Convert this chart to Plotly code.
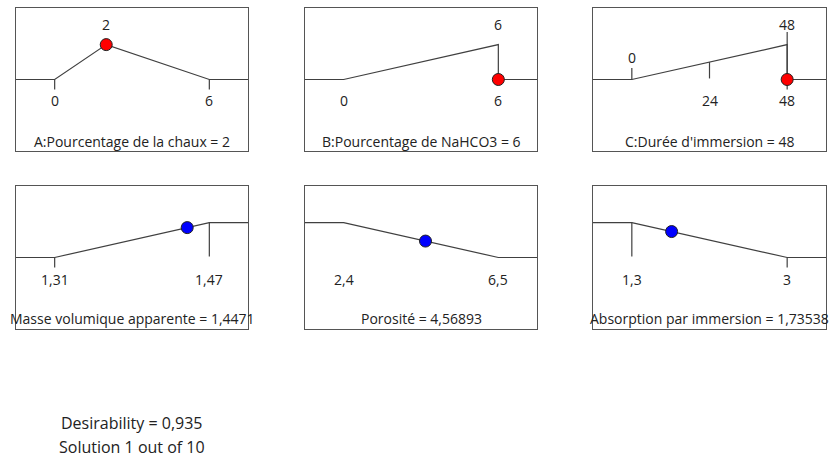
import plotly.graph_objects as go

# Factor settings for the chosen solution
factor_names = ["A:Pourcentage de la chaux", "B:Pourcentage de NaHCO3", "C:Durée d'immersion"]
factor_low = [0, 0, 0]
factor_high = [6, 6, 48]
factor_value = [2, 6, 48]
factor_goal = ["target", "maximize", "maximize"]
factor_mid = [None, None, 24]

# Response predictions and their desirability limits
response_names = ["Masse volumique apparente", "Porosité", "Absorption par immersion"]
response_low = [1.31, 2.4, 1.3]
response_high = [1.47, 6.5, 3]
response_value = [1.4471, 4.56893, 1.73538]
response_goal = ["maximize", "minimize", "minimize"]

desirability = 0.935
solution_no = 1
solution_count = 10

# Text labels printed above and below the ramps
top_labels = [["2"], ["6"], ["0", "48"], [], [], []]
top_label_vals = [[2], [6], [0, 48], [], [], []]
bottom_labels = [["0", "6"], ["0", "6"], ["24", "48"], ["1,31", "1,47"], ["2,4", "6,5"], ["1,3", "3"]]
bottom_label_vals = [[0, 6], [0, 6], [24, 48], [1.31, 1.47], [2.4, 6.5], [1.3, 3]]


def fmt(v):
    s = f"{v:g}"
    return s.replace(".", ",")


W, H = 832, 457
col_px = [(16, 248), (305, 537), (593, 826)]
row_px = [(8, 151), (186, 329)]

LINE = "#404040"
TXT = "#222222"
FONT = "Open Sans"
FS = 14

fig = go.Figure()
annotations = []


def axis_names(i):
    n = "" if i == 0 else str(i + 1)
    return "x" + n, "y" + n, "xaxis" + n, "yaxis" + n


def ramp(lo, hi, goal, val=None):
    span = hi - lo
    x0, x1 = lo - 0.25 * span, hi + 0.25 * span
    if goal == "target":
        return [x0, lo, val, hi, x1], [0, 0, 1, 0, 0]
    if goal == "maximize":
        return [x0, lo, hi, hi, x1], [0, 0, 1, 1, 1]
    return [x0, lo, hi, x1], [1, 1, 0, 0]


def seg(xr, yr, x, y0, y1):
    fig.add_trace(go.Scatter(x=[x, x], y=[y0, y1], mode="lines", xaxis=xr, yaxis=yr,
                             line=dict(color=LINE, width=1.2), hoverinfo="skip", showlegend=False))


TICK = 0.29
for i in range(6):
    xr, yr, xk, yk = axis_names(i)
    row, col = divmod(i, 3)
    if row == 0:
        lo, hi, val, goal = factor_low[col], factor_high[col], factor_value[col], factor_goal[col]
        title = f"{factor_names[col]} = {fmt(val)}"
    else:
        lo, hi, val, goal = response_low[col], response_high[col], response_value[col], response_goal[col]
        title = f"{response_names[col]} = {fmt(val)}"
    span = hi - lo
    xs, ys = ramp(lo, hi, goal, val)
    if row == 0 and goal == "maximize":
        # factor at its upper limit: the ramp drops back to the baseline
        xs = [xs[0], lo, hi, hi, xs[-1]]
        ys = [0, 0, 1, 0, 0]
    fig.add_trace(go.Scatter(x=xs, y=ys, mode="lines", xaxis=xr, yaxis=yr,
                             line=dict(color=LINE, width=1.2), hoverinfo="skip", showlegend=False))

    # short tick marks at the limits
    top_y = {}
    if row == 0:
        if goal == "target":
            seg(xr, yr, lo, 0, -TICK)
            seg(xr, yr, hi, 0, -TICK)
        elif factor_mid[col] is not None:
            m = factor_mid[col]
            seg(xr, yr, lo, 0, 0.33)
            top_y[lo] = 0.62
            seg(xr, yr, m, (m - lo) / span, 0.03)
            seg(xr, yr, hi, 1.36, -TICK)
    else:
        if goal == "maximize":
            seg(xr, yr, lo, 0, -TICK)
            seg(xr, yr, hi, 1, 0.03)
        elif col == 2:
            seg(xr, yr, lo, 1, 0.03)
            seg(xr, yr, hi, 0, -TICK)

    # current setting marker
    if row == 0:
        dy = 1.0 if goal == "target" else 0.0
        color = "#ff0000"
    else:
        frac = (val - lo) / span
        dy = frac if goal == "maximize" else 1 - frac
        color = "#0000ff"
    fig.add_trace(go.Scatter(x=[val], y=[dy], mode="markers", xaxis=xr, yaxis=yr,
                             marker=dict(size=12, color=color, line=dict(color="#202020", width=1)),
                             hoverinfo="skip", showlegend=False, cliponaxis=False))

    for t, v in zip(top_labels[i], top_label_vals[i]):
        annotations.append(dict(x=v, y=top_y.get(v, 1.59), xref=xr, yref=yr, text=t, showarrow=False,
                                xanchor="center", yanchor="middle",
                                font=dict(family=FONT, size=FS, color=TXT)))
    ylab = -0.59 if row == 0 else -0.62
    for t, v in zip(bottom_labels[i], bottom_label_vals[i]):
        annotations.append(dict(x=v, y=ylab, xref=xr, yref=yr, text=t, showarrow=False,
                                xanchor="center", yanchor="middle",
                                font=dict(family=FONT, size=FS, color=TXT)))
    annotations.append(dict(x=(lo + hi) / 2, y=-1.79 if row == 0 else -1.74, xref=xr, yref=yr,
                            text=title, showarrow=False, xanchor="center", yanchor="middle",
                            font=dict(family=FONT, size=FS, color=TXT)))

    px0, px1 = col_px[col]
    py0, py1 = row_px[row]
    fig.update_layout(**{
        xk: dict(domain=[px0 / W, px1 / W], range=[lo - 0.25 * span, hi + 0.25 * span],
                 anchor=yr, showgrid=False, zeroline=False, showticklabels=False, ticks="",
                 showline=True, mirror=True, linecolor="#555555", linewidth=1, fixedrange=True),
        yk: dict(domain=[1 - py1 / H, 1 - py0 / H], range=[-2.05, 2.05],
                 anchor=xr, showgrid=False, zeroline=False, showticklabels=False, ticks="",
                 showline=True, mirror=True, linecolor="#555555", linewidth=1, fixedrange=True),
    })

annotations.append(dict(x=132 / W, y=1 - 423 / H, xref="paper", yref="paper",
                        xanchor="center", yanchor="middle",
                        text=f"Desirability = {fmt(desirability)}", showarrow=False,
                        font=dict(family=FONT, size=16, color=TXT)))
annotations.append(dict(x=132 / W, y=1 - 447 / H, xref="paper", yref="paper",
                        xanchor="center", yanchor="middle",
                        text=f"Solution {solution_no} out of {solution_count}", showarrow=False,
                        font=dict(family=FONT, size=16, color=TXT)))

fig.update_layout(width=W, height=H, margin=dict(l=0, r=0, t=0, b=0),
                  paper_bgcolor="white", plot_bgcolor="white",
                  annotations=annotations, showlegend=False)

fig.write_html("out.html", config={"displayModeBar": False})
